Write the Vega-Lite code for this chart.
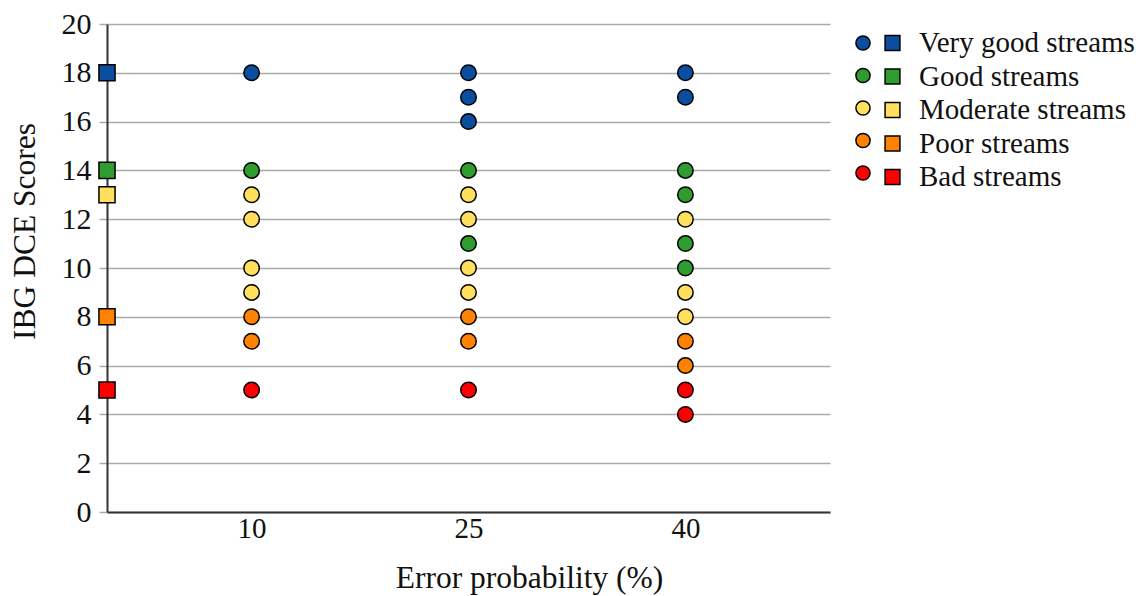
{
  "$schema": "https://vega.github.io/schema/vega-lite/v6.json",
  "width": 723,
  "height": 488,
  "autosize": "none",
  "padding": {"left": 107, "top": 24, "right": 313, "bottom": 84},
  "background": "white",
  "config": {
    "font": "Liberation Serif",
    "view": {"stroke": null},
    "legend": {"padding": 0}
  },
  "data": {
    "values": [
      {"prob": 0, "score": 18, "category": "Very good streams", "kind": "ref"},
      {"prob": 0, "score": 14, "category": "Good streams", "kind": "ref"},
      {"prob": 0, "score": 13, "category": "Moderate streams", "kind": "ref"},
      {"prob": 0, "score": 8, "category": "Poor streams", "kind": "ref"},
      {"prob": 0, "score": 5, "category": "Bad streams", "kind": "ref"},
      {"prob": 10, "score": 18, "category": "Very good streams", "kind": "obs"},
      {"prob": 10, "score": 14, "category": "Good streams", "kind": "obs"},
      {"prob": 10, "score": 13, "category": "Moderate streams", "kind": "obs"},
      {"prob": 10, "score": 12, "category": "Moderate streams", "kind": "obs"},
      {"prob": 10, "score": 10, "category": "Moderate streams", "kind": "obs"},
      {"prob": 10, "score": 9, "category": "Moderate streams", "kind": "obs"},
      {"prob": 10, "score": 8, "category": "Poor streams", "kind": "obs"},
      {"prob": 10, "score": 7, "category": "Poor streams", "kind": "obs"},
      {"prob": 10, "score": 5, "category": "Bad streams", "kind": "obs"},
      {"prob": 25, "score": 18, "category": "Very good streams", "kind": "obs"},
      {"prob": 25, "score": 17, "category": "Very good streams", "kind": "obs"},
      {"prob": 25, "score": 16, "category": "Very good streams", "kind": "obs"},
      {"prob": 25, "score": 14, "category": "Good streams", "kind": "obs"},
      {"prob": 25, "score": 13, "category": "Moderate streams", "kind": "obs"},
      {"prob": 25, "score": 12, "category": "Moderate streams", "kind": "obs"},
      {"prob": 25, "score": 11, "category": "Good streams", "kind": "obs"},
      {"prob": 25, "score": 10, "category": "Moderate streams", "kind": "obs"},
      {"prob": 25, "score": 9, "category": "Moderate streams", "kind": "obs"},
      {"prob": 25, "score": 8, "category": "Poor streams", "kind": "obs"},
      {"prob": 25, "score": 7, "category": "Poor streams", "kind": "obs"},
      {"prob": 25, "score": 5, "category": "Bad streams", "kind": "obs"},
      {"prob": 40, "score": 18, "category": "Very good streams", "kind": "obs"},
      {"prob": 40, "score": 17, "category": "Very good streams", "kind": "obs"},
      {"prob": 40, "score": 14, "category": "Good streams", "kind": "obs"},
      {"prob": 40, "score": 13, "category": "Good streams", "kind": "obs"},
      {"prob": 40, "score": 12, "category": "Moderate streams", "kind": "obs"},
      {"prob": 40, "score": 11, "category": "Good streams", "kind": "obs"},
      {"prob": 40, "score": 10, "category": "Good streams", "kind": "obs"},
      {"prob": 40, "score": 9, "category": "Moderate streams", "kind": "obs"},
      {"prob": 40, "score": 8, "category": "Moderate streams", "kind": "obs"},
      {"prob": 40, "score": 7, "category": "Poor streams", "kind": "obs"},
      {"prob": 40, "score": 6, "category": "Poor streams", "kind": "obs"},
      {"prob": 40, "score": 5, "category": "Bad streams", "kind": "obs"},
      {"prob": 40, "score": 4, "category": "Bad streams", "kind": "obs"}
    ]
  },
  "encoding": {
    "x": {
      "field": "prob",
      "type": "quantitative",
      "scale": {"domain": [0, 50], "nice": false, "zero": true},
      "axis": {
        "values": [10, 25, 40],
        "ticks": false,
        "grid": false,
        "domainColor": "#333333",
        "domainWidth": 2,
        "labelFontSize": 29,
        "labelColor": "#111111",
        "labelPadding": 2,
        "title": "Error probability (%)",
        "titleFontSize": 31.5,
        "titleFontWeight": "normal",
        "titleColor": "#111111",
        "titleX": 422,
        "titleY": 66,
        "titleAlign": "center",
        "titleBaseline": "middle"
      }
    },
    "y": {
      "field": "score",
      "type": "quantitative",
      "scale": {"domain": [0, 20], "nice": false},
      "axis": {
        "values": [0, 2, 4, 6, 8, 10, 12, 14, 16, 18, 20],
        "grid": true,
        "gridColor": "#aaaaaa",
        "gridWidth": 1.5,
        "domainColor": "#333333",
        "domainWidth": 2,
        "tickColor": "#aaaaaa",
        "tickWidth": 1.5,
        "tickSize": 8,
        "labelFontSize": 30,
        "labelColor": "#111111",
        "labelPadding": 8,
        "title": "IBG DCE Scores",
        "titleFontSize": 31.5,
        "titleFontWeight": "normal",
        "titleColor": "#111111",
        "titleX": -82,
        "titleY": 207,
        "titleAngle": -90,
        "titleAlign": "center",
        "titleBaseline": "middle"
      }
    }
  },
  "layer": [
    {
      "transform": [{"filter": "datum.kind === 'obs'"}],
      "mark": {"type": "point", "shape": "circle", "filled": true, "size": 240, "stroke": "black", "strokeWidth": 1.5, "opacity": 1},
      "encoding": {
        "fill": {
          "field": "category",
          "type": "nominal",
          "scale": {
            "domain": ["Very good streams", "Good streams", "Moderate streams", "Poor streams", "Bad streams"],
            "range": ["#0b4d9f", "#2e9c2e", "#ffdf5c", "#ff8200", "#ff0000"]
          },
          "legend": {
            "orient": "none",
            "legendX": 748,
            "legendY": 4.5,
            "title": null,
            "symbolType": "circle",
            "symbolSize": 200,
            "symbolStrokeColor": "black",
            "symbolStrokeWidth": 1.5,
            "labelExpr": "''",
            "labelOffset": 0,
            "clipHeight": 29,
            "rowPadding": 3.5
          }
        }
      }
    },
    {
      "transform": [{"filter": "datum.kind === 'ref'"}],
      "mark": {"type": "square", "filled": true, "size": 260, "stroke": "black", "strokeWidth": 1.5, "opacity": 1},
      "encoding": {
        "fill": {
          "field": "category",
          "type": "nominal",
          "scale": {
            "domain": ["Very good streams", "Good streams", "Moderate streams", "Poor streams", "Bad streams"],
            "range": ["#0b4d9f", "#2e9c2e", "#ffdf5c", "#ff8200", "#ff0000"]
          },
          "legend": {
            "orient": "none",
            "legendX": 771,
            "legendY": 4.5,
            "title": null,
            "symbolType": "square",
            "symbolSize": 220,
            "symbolStrokeColor": "black",
            "symbolStrokeWidth": 1.5,
            "labelFontSize": 29,
            "labelColor": "#111111",
            "labelLimit": 400,
            "labelOffset": 12,
            "clipHeight": 29,
            "rowPadding": 3.5
          }
        }
      }
    }
  ],
  "resolve": {"scale": {"fill": "independent"}, "legend": {"fill": "independent"}}
}
